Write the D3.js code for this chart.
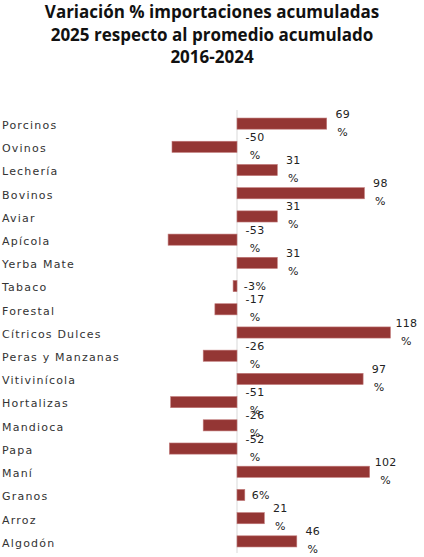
<!DOCTYPE html>
<html>
<head>
<meta charset="utf-8">
<script src="https://cdn.jsdelivr.net/npm/d3@7"></script>
<style>
  body { margin: 0; background: #fff; }
</style>
</head>
<body>
<script>
const width = 424;
const height = 557;

// datos
const categories = ['Porcinos', 'Ovinos', 'Lechería', 'Bovinos', 'Aviar', 'Apícola', 'Yerba Mate',
  'Tabaco', 'Forestal', 'Cítricos Dulces', 'Peras y Manzanas', 'Vitivinícola', 'Hortalizas',
  'Mandioca', 'Papa', 'Maní', 'Granos', 'Arroz', 'Algodón'];
const values = [69, -50, 31, 98, 31, -53, 31, -3, -17, 118, -26, 97, -51, -26, -52, 102, 6, 21, 46];
const titleLines = ['Variación % importaciones acumuladas', '2025 respecto al promedio acumulado', '2016-2024'];

const data = categories.map((c, i) => ({cat: c, v: values[i]}));

const svg = d3.select('body').append('svg').attr('width', width).attr('height', height);

svg.selectAll('text.title')
  .data(titleLines)
  .enter()
  .append('text')
  .attr('class', 'title')
  .attr('x', 212)
  .attr('y', (d, i) => 18 + i * 22.5)
  .attr('text-anchor', 'middle')
  .attr('font-family', 'Open Sans')
  .attr('font-weight', 700)
  .attr('font-size', 17)
  .attr('fill', '#111')
  .text(d => d);

const x = d3.scaleLinear().domain([0, 100]).range([237, 367]);
const y = d3.scaleBand().domain(categories).range([112, 553])
  .paddingInner(0.52).paddingOuter(0.26);

// linea del cero
svg.append('line')
  .attr('x1', x(0)).attr('x2', x(0))
  .attr('y1', 110).attr('y2', 553)
  .attr('stroke', '#d9d9d9')
  .attr('stroke-width', 1);

svg.selectAll('rect.bar')
  .data(data)
  .enter()
  .append('rect')
  .attr('class', 'bar')
  .attr('x', d => x(Math.min(0, d.v)))
  .attr('y', d => y(d.cat))
  .attr('width', d => Math.abs(x(d.v) - x(0)))
  .attr('height', y.bandwidth())
  .attr('fill', '#943634')
  .attr('stroke', '#c07878')
  .attr('stroke-width', 0.6);

// etiquetas de categorias
svg.selectAll('text.cat')
  .data(data)
  .enter()
  .append('text')
  .attr('class', 'cat')
  .attr('x', 2)
  .attr('y', d => y(d.cat) + y.bandwidth() / 2 + 1.5)
  .attr('dy', '0.35em')
  .attr('font-family', 'DejaVu Sans')
  .attr('font-size', 11)
  .attr('letter-spacing', 1.2)
  .attr('fill', '#333')
  .text(d => d.cat);

// etiquetas de valor
const lbl = svg.selectAll('text.val')
  .data(data)
  .enter()
  .append('text')
  .attr('class', 'val')
  .attr('text-anchor', 'middle')
  .attr('font-family', 'DejaVu Sans')
  .attr('font-size', 11)
  .attr('letter-spacing', 0.3)
  .attr('fill', '#222')
  .attr('transform', d => {
    const cx = d.v > 0 ? x(d.v) + 16 : x(0) + 18;
    const cy = y(d.cat) + y.bandwidth() / 2;
    return `translate(${cx},${cy})`;
  });

lbl.each(function(d) {
  const t = d3.select(this);
  if (Math.abs(d.v) < 10) {
    t.append('tspan').attr('x', 0).attr('dy', '0.35em').text(d.v + '%');
  } else {
    t.append('tspan').attr('x', 0).attr('y', -6).text(d.v);
    t.append('tspan').attr('x', 0).attr('y', 12).text('%');
  }
});
</script>
</body>
</html>
